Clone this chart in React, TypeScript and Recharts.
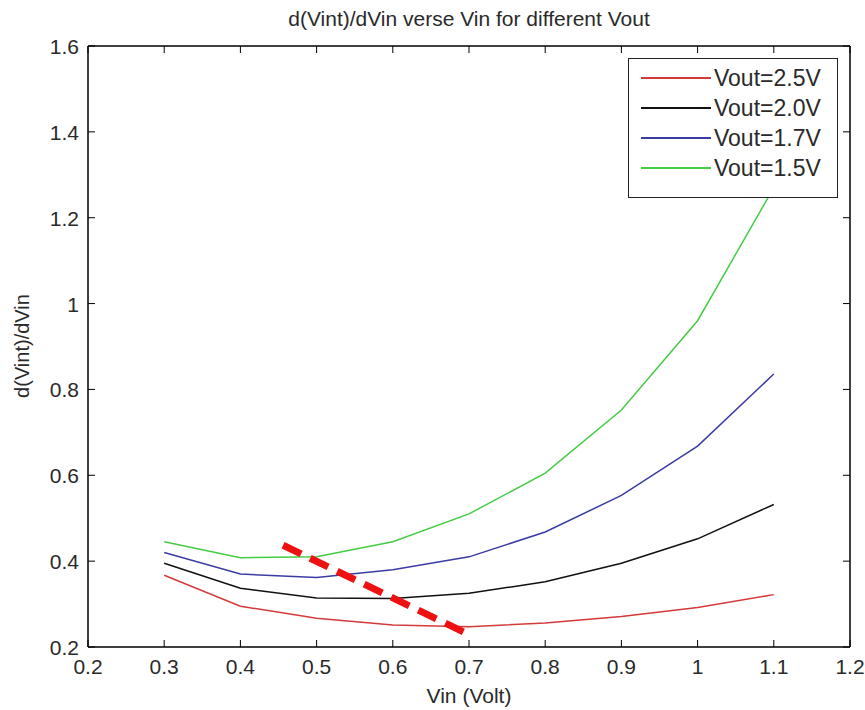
import { LineChart, Line, XAxis, YAxis } from 'recharts'

const vin = [0.3, 0.4, 0.5, 0.6, 0.7, 0.8, 0.9, 1.0, 1.1]
const vout25 = [0.367, 0.295, 0.267, 0.251, 0.247, 0.256, 0.271, 0.292, 0.322]
const vout20 = [0.395, 0.337, 0.314, 0.313, 0.325, 0.352, 0.395, 0.452, 0.532]
const vout17 = [0.42, 0.37, 0.362, 0.38, 0.41, 0.468, 0.553, 0.668, 0.836]
const vout15 = [0.445, 0.408, 0.41, 0.445, 0.51, 0.605, 0.752, 0.96, 1.27]

// thick red dashed annotation line
const markX = [0.456, 0.693]
const markY = [0.437, 0.235]

const xTicks = [0.2, 0.3, 0.4, 0.5, 0.6, 0.7, 0.8, 0.9, 1, 1.1, 1.2]
const yTicks = [0.2, 0.4, 0.6, 0.8, 1, 1.2, 1.4, 1.6]

const FONT = "'Liberation Sans', Arial, sans-serif"
const TEXT = '#2a2a2a'

const series = [
  { name: 'Vout=2.5V', values: vout25, color: '#d43a3a' },
  { name: 'Vout=2.0V', values: vout20, color: '#111111' },
  { name: 'Vout=1.7V', values: vout17, color: '#3b3ba6' },
  { name: 'Vout=1.5V', values: vout15, color: '#44cc44' },
]

const fmt = (v: number): string => String(Math.round(v * 10) / 10)

interface TickProps {
  x?: number
  y?: number
  payload?: { value: number }
}

const BottomTick = ({ x = 0, y = 0, payload }: TickProps) => (
  <g>
    <line x1={x} x2={x} y1={y} y2={y - 7} stroke="#000" />
    <text x={x} y={y + 27} textAnchor="middle" fontSize={21} fontFamily={FONT} fill={TEXT}>
      {payload ? fmt(payload.value) : ''}
    </text>
  </g>
)

const TopTick = ({ x = 0, y = 0 }: TickProps) => (
  <line x1={x} x2={x} y1={y} y2={y + 7} stroke="#000" />
)

const LeftTick = ({ x = 0, y = 0, payload }: TickProps) => (
  <g>
    <line x1={x} x2={x + 7} y1={y} y2={y} stroke="#000" />
    <text x={x - 9} y={y + 8} textAnchor="end" fontSize={21} fontFamily={FONT} fill={TEXT}>
      {payload ? fmt(payload.value) : ''}
    </text>
  </g>
)

const RightTick = ({ x = 0, y = 0 }: TickProps) => (
  <line x1={x} x2={x - 7} y1={y} y2={y} stroke="#000" />
)

const LegendBox = () => (
  <div
    style={{
      position: 'absolute',
      left: 628,
      top: 58,
      width: 210,
      height: 140,
      border: '1.5px solid #222',
      background: '#fff',
      boxSizing: 'border-box',
      padding: '4px 0 0 12px',
      fontFamily: FONT,
      fontSize: 23,
      color: TEXT,
    }}
  >
    {series.map((s) => (
      <div key={s.name} style={{ display: 'flex', alignItems: 'center', height: 30 }}>
        <div style={{ width: 70, height: 1.5, background: s.color, marginRight: 3 }} />
        <span>{s.name}</span>
      </div>
    ))}
  </div>
)

export default function App() {
  return (
    <div style={{ position: 'absolute', left: 0, top: 0, width: 865, height: 710, background: '#fff' }}>
      <div
        style={{
          position: 'absolute',
          top: 7,
          left: 88,
          width: 762,
          textAlign: 'center',
          fontFamily: FONT,
          fontSize: 21,
          color: TEXT,
        }}
      >
        d(Vint)/dVin verse Vin for different Vout
      </div>
      <div
        style={{
          position: 'absolute',
          top: 684,
          left: 88,
          width: 762,
          textAlign: 'center',
          fontFamily: FONT,
          fontSize: 21,
          color: TEXT,
        }}
      >
        Vin (Volt)
      </div>
      <div
        style={{
          position: 'absolute',
          left: 22,
          top: 346,
          transform: 'translate(-50%, -50%) rotate(-90deg)',
          fontFamily: FONT,
          fontSize: 20,
          color: TEXT,
          whiteSpace: 'nowrap',
        }}
      >
        d(Vint)/dVin
      </div>
      <LineChart width={865} height={710} margin={{ top: 45, right: 14, bottom: 0, left: 0 }}>
        <XAxis
          xAxisId="bottom"
          type="number"
          dataKey="x"
          domain={[0.2, 1.2]}
          ticks={xTicks}
          allowDataOverflow
          height={63}
          tickLine={false}
          tickSize={0}
          tickMargin={0}
          stroke="#000"
          strokeWidth={1.5}
          tick={<BottomTick />}
        />
        <XAxis
          xAxisId="top"
          orientation="top"
          type="number"
          dataKey="x"
          domain={[0.2, 1.2]}
          ticks={xTicks}
          allowDataOverflow
          height={1}
          tickLine={false}
          tickSize={0}
          tickMargin={0}
          stroke="#000"
          strokeWidth={1.5}
          tick={<TopTick />}
        />
        <YAxis
          yAxisId="left"
          type="number"
          domain={[0.2, 1.6]}
          ticks={yTicks}
          allowDataOverflow
          width={88}
          tickLine={false}
          tickSize={0}
          tickMargin={0}
          stroke="#000"
          strokeWidth={1.5}
          tick={<LeftTick />}
        />
        <YAxis
          yAxisId="right"
          orientation="right"
          type="number"
          domain={[0.2, 1.6]}
          ticks={yTicks}
          allowDataOverflow
          width={1}
          tickLine={false}
          tickSize={0}
          tickMargin={0}
          stroke="#000"
          strokeWidth={1.5}
          tick={<RightTick />}
        />
        {series.map((s) => (
          <Line
            key={s.name}
            xAxisId="bottom"
            yAxisId="left"
            name={s.name}
            data={vin.map((x, i) => ({ x, y: s.values[i] }))}
            dataKey="y"
            stroke={s.color}
            strokeWidth={1.5}
            dot={false}
            type="linear"
            isAnimationActive={false}
          />
        ))}
        <Line
          xAxisId="bottom"
          yAxisId="left"
          name="mark"
          legendType="none"
          data={markX.map((x, i) => ({ x, y: markY[i] }))}
          dataKey="y"
          stroke="#ee1111"
          strokeWidth={7}
          strokeDasharray="20 10"
          dot={false}
          type="linear"
          isAnimationActive={false}
        />
      </LineChart>
      <LegendBox />
    </div>
  )
}
